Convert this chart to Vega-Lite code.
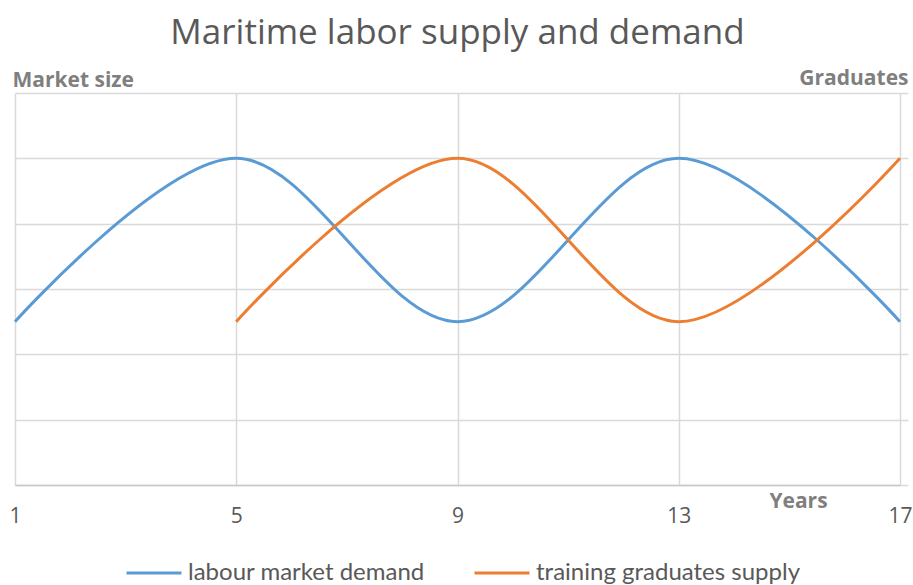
{
  "$schema": "https://vega.github.io/schema/vega-lite/v6.json",
  "width": 885,
  "height": 392,
  "autosize": "none",
  "padding": {"left": 15, "top": 93, "right": 13, "bottom": 100},
  "background": "white",
  "title": {
    "text": "Maritime labor supply and demand",
    "font": "Open Sans",
    "fontSize": 35,
    "fontWeight": "normal",
    "color": "#595959",
    "anchor": "middle",
    "offset": 16
  },
  "config": {"view": {"stroke": null}},
  "data": {
    "values": [
      {"year": 1, "value": 2.5, "series": "labour market demand"},
      {"year": 5, "value": 5, "series": "labour market demand"},
      {"year": 9, "value": 2.5, "series": "labour market demand"},
      {"year": 13, "value": 5, "series": "labour market demand"},
      {"year": 17, "value": 2.5, "series": "labour market demand"},
      {"year": 5, "value": 2.5, "series": "training graduates supply"},
      {"year": 9, "value": 5, "series": "training graduates supply"},
      {"year": 13, "value": 2.5, "series": "training graduates supply"},
      {"year": 17, "value": 5, "series": "training graduates supply"}
    ]
  },
  "encoding": {
    "x": {
      "field": "year",
      "type": "quantitative",
      "scale": {"domain": [1, 17], "nice": false, "zero": false},
      "axis": {
        "values": [1, 5, 9, 13, 17],
        "grid": true,
        "gridColor": "#D9D9D9",
        "gridWidth": 1.5,
        "ticks": false,
        "domainColor": "#C8C8C8",
        "domainWidth": 1.5,
        "labelFont": "Open Sans",
        "labelFontSize": 21,
        "labelColor": "#595959",
        "labelPadding": 20,
        "labelFlush": false,
        "title": "Years",
        "titleFont": "Open Sans",
        "titleFontSize": 21,
        "titleFontWeight": "bold",
        "titleColor": "#7F7F7F",
        "titleX": 783,
        "titleY": 22,
        "titleAlign": "center",
        "titleBaseline": "alphabetic"
      }
    },
    "color": {
      "field": "series",
      "type": "nominal",
      "scale": {
        "domain": ["labour market demand", "training graduates supply"],
        "range": ["#5B9BD5", "#ED7D31"]
      },
      "legend": {
        "orient": "none",
        "legendX": 110,
        "legendY": 451,
        "direction": "horizontal",
        "title": null,
        "symbolType": "stroke",
        "symbolSize": 3025,
        "symbolStrokeWidth": 3,
        "labelFont": "Lato",
        "labelFontSize": 24,
        "labelColor": "#595959",
        "labelOffset": 5,
        "columnPadding": 43,
        "labelLimit": 400
      }
    }
  },
  "layer": [
    {
      "transform": [{"filter": "datum.series === 'labour market demand'"}],
      "mark": {"type": "line", "interpolate": "cardinal", "strokeWidth": 3},
      "encoding": {
        "y": {
          "field": "value",
          "type": "quantitative",
          "scale": {"domain": [0, 6], "nice": false},
          "axis": {
            "orient": "left",
            "values": [0, 1, 2, 3, 4, 5, 6],
            "grid": true,
            "gridColor": "#D9D9D9",
            "gridWidth": 1.5,
            "ticks": false,
            "labels": false,
            "domain": false,
            "title": "Market size",
            "titleFont": "Open Sans",
            "titleFontSize": 21,
            "titleFontWeight": "bold",
            "titleColor": "#7F7F7F",
            "titleAngle": 0,
            "titleAlign": "left",
            "titleBaseline": "alphabetic",
            "titleX": -3,
            "titleY": -7
          }
        }
      }
    },
    {
      "transform": [{"filter": "datum.series === 'training graduates supply'"}],
      "mark": {"type": "line", "interpolate": "cardinal", "strokeWidth": 3},
      "encoding": {
        "y": {
          "field": "value",
          "type": "quantitative",
          "scale": {"domain": [0, 6], "nice": false},
          "axis": {
            "orient": "right",
            "values": [0, 1, 2, 3, 4, 5, 6],
            "grid": false,
            "ticks": true,
            "tickSize": 8,
            "tickColor": "#D9D9D9",
            "tickWidth": 1.5,
            "labels": false,
            "domain": false,
            "title": "Graduates",
            "titleFont": "Open Sans",
            "titleFontSize": 21,
            "titleFontWeight": "bold",
            "titleColor": "#7F7F7F",
            "titleAngle": 0,
            "titleAlign": "right",
            "titleBaseline": "alphabetic",
            "titleX": 8,
            "titleY": -9
          }
        }
      }
    }
  ],
  "resolve": {"scale": {"y": "independent"}}
}
